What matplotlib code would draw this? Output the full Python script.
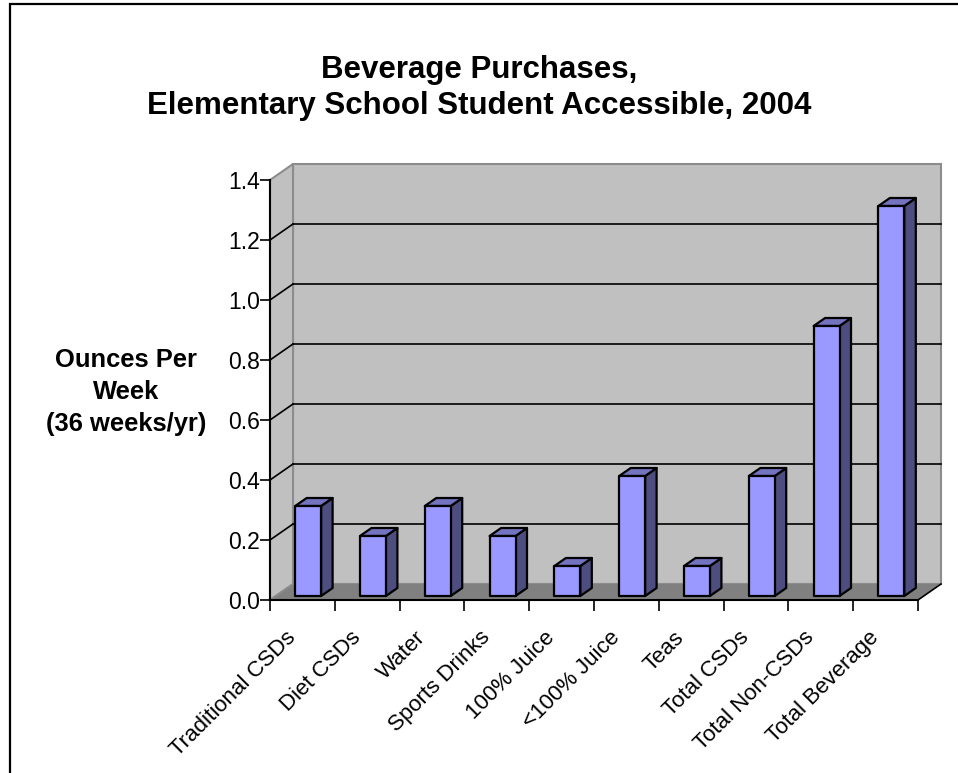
import matplotlib
matplotlib.use("Agg")
import matplotlib.pyplot as plt
import matplotlib.transforms as mtransforms
from matplotlib.patches import Polygon, Rectangle

plt.rcParams['font.family'] = ['Liberation Sans', 'DejaVu Sans']

categories = ["Traditional CSDs", "Diet CSDs", "Water", "Sports Drinks",
              "100% Juice", "<100% Juice", "Teas", "Total CSDs",
              "Total Non-CSDs", "Total Beverage"]
ounces = [0.3, 0.2, 0.3, 0.2, 0.1, 0.4, 0.1, 0.4, 0.9, 1.3]
y_ticks = [0.0, 0.2, 0.4, 0.6, 0.8, 1.0, 1.2, 1.4]
title = "Beverage Purchases,\nElementary School Student Accessible, 2004"
y_label = "Ounces Per\nWeek\n(36 weeks/yr)"

W, H = 958, 773
fig = plt.figure(figsize=(W / 100, H / 100), dpi=100)
fig.patch.set_facecolor("white")

# outer chart frame (right and bottom edges run off the canvas)
fig.add_artist(Rectangle((10 / W, -0.1), 1.2, 1 - 4 / H + 0.1,
                         transform=fig.transFigure, fill=False,
                         edgecolor="black", linewidth=1.6))

ax = fig.add_axes([270 / W, (H - 600) / H, 648 / W, 420 / H])
n = len(categories)
ymax = y_ticks[-1]
ax.set_xlim(0, n)
ax.set_ylim(0, ymax)
for s in ax.spines.values():
    s.set_visible(False)
ax.patch.set_visible(False)

# oblique depth of the plot box, in data units
DX, DY = 0.355, 0.0533

wall = "#C0C0C0"
floor = "#808080"
edge = "#8C8C8C"

# back wall and side wall
ax.add_patch(Polygon([(DX, DY), (n + DX, DY), (n + DX, ymax + DY), (DX, ymax + DY)],
                     closed=True, facecolor=wall, edgecolor=edge, linewidth=1.5,
                     clip_on=False, zorder=1))
ax.add_patch(Polygon([(0, 0), (DX, DY), (DX, ymax + DY), (0, ymax)],
                     closed=True, facecolor=wall, edgecolor=edge, linewidth=1.5,
                     clip_on=False, zorder=1))

# gridlines on both walls
for v in y_ticks[1:-1]:
    ax.plot([DX, n + DX], [v + DY, v + DY], color="black", lw=1.2,
            clip_on=False, zorder=2)
    ax.plot([0, DX], [v, v + DY], color="black", lw=1.2,
            clip_on=False, zorder=2)

# floor
ax.add_patch(Polygon([(0, 0), (n, 0), (n + DX, DY), (DX, DY)],
                     closed=True, facecolor=floor, edgecolor="none",
                     clip_on=False, zorder=3))
ax.plot([0, DX], [0, DY], color=edge, lw=1.2, clip_on=False, zorder=3)
ax.plot([n, n + DX], [0, DY], color="black", lw=1.2, clip_on=False, zorder=3)

# 3-D bars
front_c, top_c, side_c = "#9999FF", "#7373BF", "#4D4D80"
bar_w = 0.4
z0, z1 = 0.25, 0.75
for i, v in enumerate(ounces):
    x0 = i + 0.5 - bar_w / 2 + z0 * DX
    x1 = x0 + bar_w
    y0 = z0 * DY
    y1 = y0 + v
    ddx = (z1 - z0) * DX
    ddy = (z1 - z0) * DY
    kw = dict(closed=True, edgecolor="black", linewidth=1.6,
              joinstyle="round", clip_on=False, zorder=5)
    ax.add_patch(Polygon([(x1, y0), (x1 + ddx, y0 + ddy), (x1 + ddx, y1 + ddy), (x1, y1)],
                         facecolor=side_c, **kw))
    ax.add_patch(Polygon([(x0, y1), (x1, y1), (x1 + ddx, y1 + ddy), (x0 + ddx, y1 + ddy)],
                         facecolor=top_c, **kw))
    ax.add_patch(Polygon([(x0, y0), (x1, y0), (x1, y1), (x0, y1)],
                         facecolor=front_c, **kw))

# front axis lines
ax.plot([0, 0], [0, ymax], color="black", lw=1.5, clip_on=False, zorder=6)
ax.plot([0, n], [0, 0], color="black", lw=1.5, clip_on=False, zorder=6)

# ticks
ax.set_yticks(y_ticks)
ax.set_yticklabels([f"{t:.1f}" for t in y_ticks])
ax.tick_params(axis="y", direction="out", length=7, width=1.2, pad=0,
               labelsize=16.5)
ax.set_xticks(range(n + 1))
ax.set_xticklabels([])
ax.tick_params(axis="x", which="major", direction="out", length=8, width=1.2)
ax.set_xticks([i + 0.5 for i in range(n)], minor=True)
ax.set_xticklabels(categories, minor=True, rotation=45, ha="right",
                   va="center", rotation_mode="anchor", fontsize=16)
ax.tick_params(axis="x", which="minor", length=0, pad=12)
shift = mtransforms.ScaledTranslation(-10 / 100, -18 / 100, fig.dpi_scale_trans)
for lbl in ax.get_xticklabels(minor=True):
    lbl.set_transform(lbl.get_transform() + shift)

fig.text(479 / W, 1 - 88 / H, title, ha="center", va="center",
         fontsize=22.5, fontweight="bold", linespacing=1.3)
fig.text(126 / W, 1 - 392 / H, y_label, ha="center", va="center",
         fontsize=18.4, fontweight="bold", linespacing=1.4,
         multialignment="center")

fig.savefig("out.png", dpi=100)
